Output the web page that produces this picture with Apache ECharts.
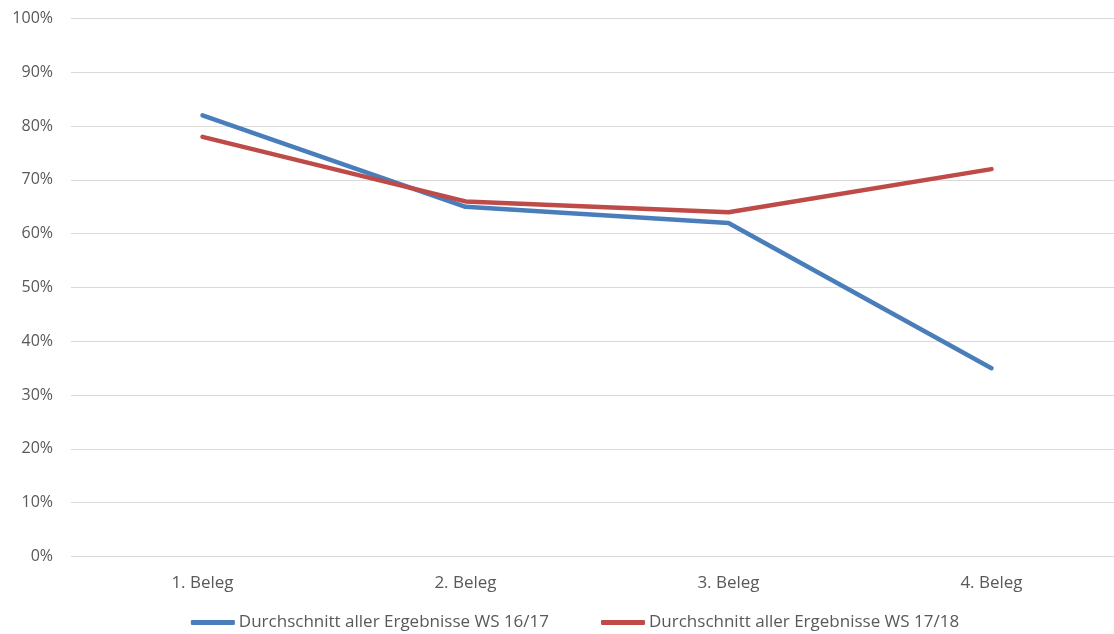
<!DOCTYPE html>
<html>
<head>
<meta charset="utf-8">
<script src="https://cdn.jsdelivr.net/npm/echarts@6/dist/echarts.min.js"></script>
<style>
  html, body { margin: 0; padding: 0; background: #fff; overflow: hidden; }
  #chart { width: 1150px; height: 634px; }
</style>
</head>
<body>
<div id="chart"></div>
<script>
// Assignments (Belege) on the x axis
const categories = ['1. Beleg', '2. Beleg', '3. Beleg', '4. Beleg'];
// Average results per semester, in percent
const ws1617 = [82, 65, 62, 35];
const ws1718 = [78, 66, 64, 72];
const seriesNames = ['Durchschnitt aller Ergebnisse WS 16/17', 'Durchschnitt aller Ergebnisse WS 17/18'];

const font = '"Open Sans", "Noto Sans", sans-serif';
const chart = echarts.init(document.getElementById('chart'), null, { renderer: 'canvas' });

chart.setOption({
  animation: false,
  backgroundColor: '#ffffff',
  grid: { left: 71, right: 27, top: 18.5, bottom: 77.5, containLabel: false },
  legend: {
    top: 614,
    left: 'center',
    padding: 0,
    icon: 'roundRect',
    itemWidth: 44,
    itemHeight: 5,
    itemGap: 52,
    textStyle: { color: '#595959', fontSize: 17, fontFamily: font, padding: [0, 0, 0, -1] },
    data: seriesNames
  },
  xAxis: {
    type: 'category',
    data: categories,
    boundaryGap: true,
    axisLine: { show: false },
    axisTick: { show: false },
    axisLabel: { color: '#595959', fontSize: 17, fontFamily: font, margin: 18 }
  },
  yAxis: {
    type: 'value',
    min: 0,
    max: 100,
    interval: 10,
    axisLine: { show: false },
    axisTick: { show: false },
    axisLabel: { color: '#595959', fontSize: 16, fontFamily: font, margin: 18, formatter: '{value}%' },
    splitLine: { lineStyle: { color: '#d9d9d9', width: 1 } }
  },
  series: [
    {
      name: seriesNames[0],
      type: 'line',
      data: ws1617,
      symbol: 'none',
      lineStyle: { color: '#4a7ebb', width: 4.5, cap: 'round', join: 'round' },
      itemStyle: { color: '#4a7ebb' }
    },
    {
      name: seriesNames[1],
      type: 'line',
      data: ws1718,
      symbol: 'none',
      lineStyle: { color: '#be4b48', width: 4.5, cap: 'round', join: 'round' },
      itemStyle: { color: '#be4b48' }
    }
  ]
});
</script>
</body>
</html>
